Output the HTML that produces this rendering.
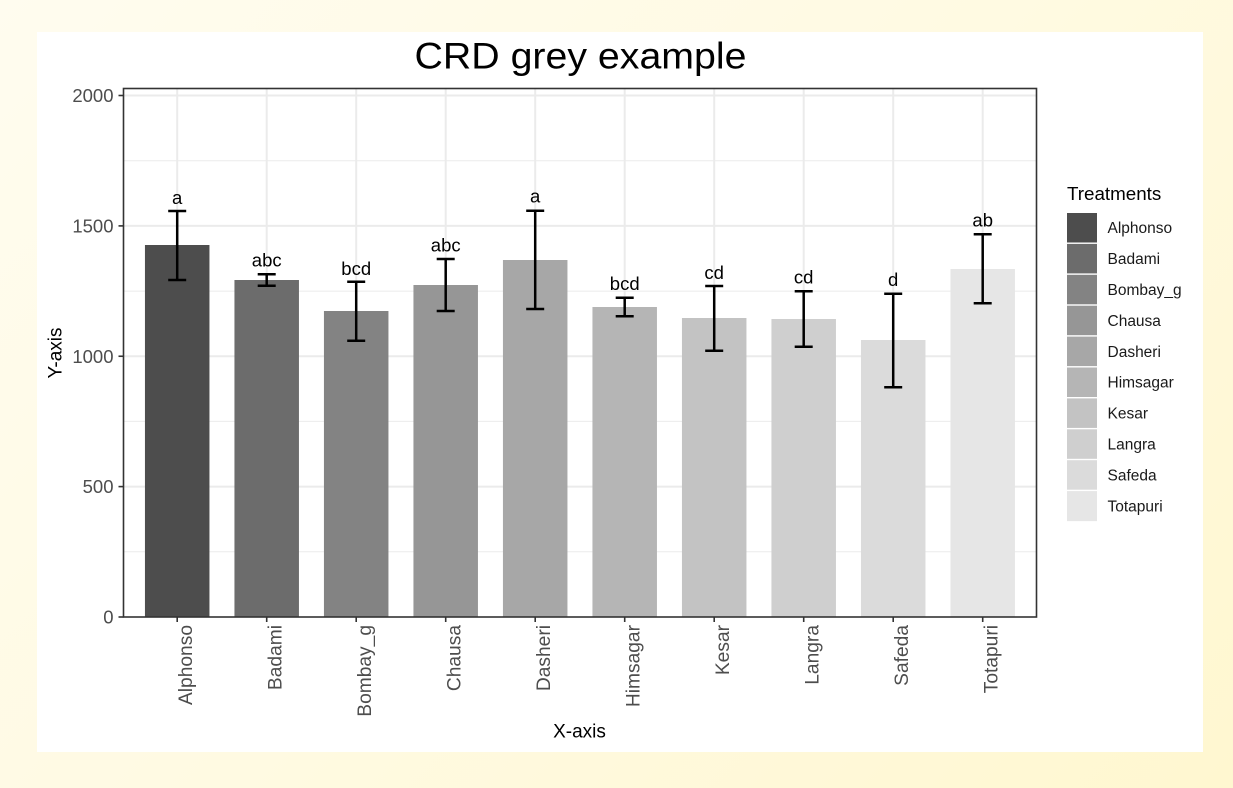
<!DOCTYPE html>
<html>
<head>
<meta charset="utf-8">
<style>
html,body{margin:0;padding:0;}
body{width:1233px;height:788px;overflow:hidden;background:linear-gradient(135deg,#fffcef 0%,#fffae2 50%,#fff7d0 100%);}
svg{display:block;}
text{font-family:"Liberation Sans",Arial,sans-serif;}
</style>
</head>
<body>
<svg width="1233" height="788" viewBox="0 0 1233 788" xmlns="http://www.w3.org/2000/svg">
  <rect x="37" y="32" width="1166" height="720" fill="#ffffff"/>

  <!-- title -->
  <text x="580.5" y="68.5" font-size="37" text-anchor="middle" fill="#000" textLength="332" lengthAdjust="spacingAndGlyphs">CRD grey example</text>

  <!-- minor grid -->
  <g stroke="#ebebeb" stroke-width="1">
    <line x1="123.5" x2="1036.5" y1="551.8" y2="551.8"/>
    <line x1="123.5" x2="1036.5" y1="421.4" y2="421.4"/>
    <line x1="123.5" x2="1036.5" y1="291.1" y2="291.1"/>
    <line x1="123.5" x2="1036.5" y1="160.7" y2="160.7"/>
  </g>
  <!-- major grid -->
  <g stroke="#ebebeb" stroke-width="2">
    <line x1="123.5" x2="1036.5" y1="486.6" y2="486.6"/>
    <line x1="123.5" x2="1036.5" y1="356.25" y2="356.25"/>
    <line x1="123.5" x2="1036.5" y1="225.9" y2="225.9"/>
    <line x1="123.5" x2="1036.5" y1="95.5" y2="95.5"/>
    <line y1="88.5" y2="617" x1="177.2" x2="177.2"/>
    <line y1="88.5" y2="617" x1="266.7" x2="266.7"/>
    <line y1="88.5" y2="617" x1="356.2" x2="356.2"/>
    <line y1="88.5" y2="617" x1="445.7" x2="445.7"/>
    <line y1="88.5" y2="617" x1="535.2" x2="535.2"/>
    <line y1="88.5" y2="617" x1="624.7" x2="624.7"/>
    <line y1="88.5" y2="617" x1="714.2" x2="714.2"/>
    <line y1="88.5" y2="617" x1="803.7" x2="803.7"/>
    <line y1="88.5" y2="617" x1="893.2" x2="893.2"/>
    <line y1="88.5" y2="617" x1="982.7" x2="982.7"/>
  </g>

  <!-- bars -->
  <rect x="144.95" y="245" width="64.5" height="372" fill="#4d4d4d"/>
  <rect x="234.45" y="280" width="64.5" height="337" fill="#6c6c6c"/>
  <rect x="323.95" y="311" width="64.5" height="306" fill="#838383"/>
  <rect x="413.45" y="285" width="64.5" height="332" fill="#969696"/>
  <rect x="502.95" y="260" width="64.5" height="357" fill="#a7a7a7"/>
  <rect x="592.45" y="307" width="64.5" height="310" fill="#b5b5b5"/>
  <rect x="681.95" y="318" width="64.5" height="299" fill="#c3c3c3"/>
  <rect x="771.45" y="319" width="64.5" height="298" fill="#cfcfcf"/>
  <rect x="860.95" y="340" width="64.5" height="277" fill="#dbdbdb"/>
  <rect x="950.45" y="269" width="64.5" height="348" fill="#e6e6e6"/>

  <!-- error bars -->
  <g stroke="#000" stroke-width="2.5" fill="none">
    <path d="M177.2 211V280M168.2 211H186.2M168.2 280H186.2"/>
    <path d="M266.7 274.3V285.7M257.7 274.3H275.7M257.7 285.7H275.7"/>
    <path d="M356.2 281.7V340.7M347.2 281.7H365.2M347.2 340.7H365.2"/>
    <path d="M445.7 259V311M436.7 259H454.7M436.7 311H454.7"/>
    <path d="M535.2 210.7V309M526.2 210.7H544.2M526.2 309H544.2"/>
    <path d="M624.7 297.7V316.3M615.7 297.7H633.7M615.7 316.3H633.7"/>
    <path d="M714.2 286V350.7M705.2 286H723.2M705.2 350.7H723.2"/>
    <path d="M803.7 291.3V346.7M794.7 291.3H812.7M794.7 346.7H812.7"/>
    <path d="M893.2 293.7V387.3M884.2 293.7H902.2M884.2 387.3H902.2"/>
    <path d="M982.7 234.3V303.3M973.7 234.3H991.7M973.7 303.3H991.7"/>
  </g>

  <!-- letters -->
  <g font-size="18.5" text-anchor="middle" fill="#000">
    <text x="177.2" y="204">a</text>
    <text x="266.7" y="266.7">abc</text>
    <text x="356.2" y="275">bcd</text>
    <text x="445.7" y="251.7">abc</text>
    <text x="535.2" y="202.5">a</text>
    <text x="624.7" y="290">bcd</text>
    <text x="714.2" y="279">cd</text>
    <text x="803.7" y="283.5">cd</text>
    <text x="893.2" y="286">d</text>
    <text x="982.7" y="226.5">ab</text>
  </g>

  <!-- panel border -->
  <rect x="123.5" y="88.5" width="913" height="528.5" fill="none" stroke="#333333" stroke-width="1.6"/>

  <!-- ticks -->
  <g stroke="#333333" stroke-width="1.6">
    <line x1="118.5" x2="123.5" y1="617" y2="617"/>
    <line x1="118.5" x2="123.5" y1="486.6" y2="486.6"/>
    <line x1="118.5" x2="123.5" y1="356.25" y2="356.25"/>
    <line x1="118.5" x2="123.5" y1="225.9" y2="225.9"/>
    <line x1="118.5" x2="123.5" y1="95.5" y2="95.5"/>
    <line y1="617" y2="622" x1="177.2" x2="177.2"/>
    <line y1="617" y2="622" x1="266.7" x2="266.7"/>
    <line y1="617" y2="622" x1="356.2" x2="356.2"/>
    <line y1="617" y2="622" x1="445.7" x2="445.7"/>
    <line y1="617" y2="622" x1="535.2" x2="535.2"/>
    <line y1="617" y2="622" x1="624.7" x2="624.7"/>
    <line y1="617" y2="622" x1="714.2" x2="714.2"/>
    <line y1="617" y2="622" x1="803.7" x2="803.7"/>
    <line y1="617" y2="622" x1="893.2" x2="893.2"/>
    <line y1="617" y2="622" x1="982.7" x2="982.7"/>
  </g>

  <!-- y tick labels -->
  <g font-size="18.5" text-anchor="end" fill="#4d4d4d">
    <text x="113.5" y="623.5">0</text>
    <text x="113.5" y="493.1">500</text>
    <text x="113.5" y="362.75">1000</text>
    <text x="113.5" y="232.4">1500</text>
    <text x="113.5" y="102">2000</text>
  </g>

  <!-- x tick labels -->
  <g font-size="19.2" text-anchor="end" fill="#4d4d4d">
    <text transform="translate(191.8,625) rotate(-90)">Alphonso</text>
    <text transform="translate(281.3,625) rotate(-90)">Badami</text>
    <text transform="translate(370.8,625) rotate(-90)">Bombay_g</text>
    <text transform="translate(460.3,625) rotate(-90)">Chausa</text>
    <text transform="translate(549.8,625) rotate(-90)">Dasheri</text>
    <text transform="translate(639.3,625) rotate(-90)">Himsagar</text>
    <text transform="translate(728.8,625) rotate(-90)">Kesar</text>
    <text transform="translate(818.3,625) rotate(-90)">Langra</text>
    <text transform="translate(907.8,625) rotate(-90)">Safeda</text>
    <text transform="translate(997.3,625) rotate(-90)">Totapuri</text>
  </g>

  <!-- axis titles -->
  <text x="579.5" y="737.5" font-size="19" text-anchor="middle" fill="#000">X-axis</text>
  <text transform="translate(61.5,353) rotate(-90)" font-size="19" text-anchor="middle" fill="#000">Y-axis</text>

  <!-- legend -->
  <text x="1067" y="200" font-size="18.8" fill="#000">Treatments</text>
  <g>
    <rect x="1067" y="213" width="30" height="29.5" fill="#4d4d4d"/>
    <rect x="1067" y="243.9" width="30" height="29.5" fill="#6c6c6c"/>
    <rect x="1067" y="274.8" width="30" height="29.5" fill="#838383"/>
    <rect x="1067" y="305.7" width="30" height="29.5" fill="#969696"/>
    <rect x="1067" y="336.6" width="30" height="29.5" fill="#a7a7a7"/>
    <rect x="1067" y="367.5" width="30" height="29.5" fill="#b5b5b5"/>
    <rect x="1067" y="398.4" width="30" height="29.5" fill="#c3c3c3"/>
    <rect x="1067" y="429.3" width="30" height="29.5" fill="#cfcfcf"/>
    <rect x="1067" y="460.2" width="30" height="29.5" fill="#dbdbdb"/>
    <rect x="1067" y="491.1" width="30" height="30" fill="#e6e6e6"/>
  </g>
  <g font-size="15.5" fill="#1a1a1a">
    <text x="1107.5" y="233.2">Alphonso</text>
    <text x="1107.5" y="264.1">Badami</text>
    <text x="1107.5" y="295">Bombay_g</text>
    <text x="1107.5" y="325.9">Chausa</text>
    <text x="1107.5" y="356.8">Dasheri</text>
    <text x="1107.5" y="387.7">Himsagar</text>
    <text x="1107.5" y="418.6">Kesar</text>
    <text x="1107.5" y="449.5">Langra</text>
    <text x="1107.5" y="480.4">Safeda</text>
    <text x="1107.5" y="511.3">Totapuri</text>
  </g>
</svg>
</body>
</html>
